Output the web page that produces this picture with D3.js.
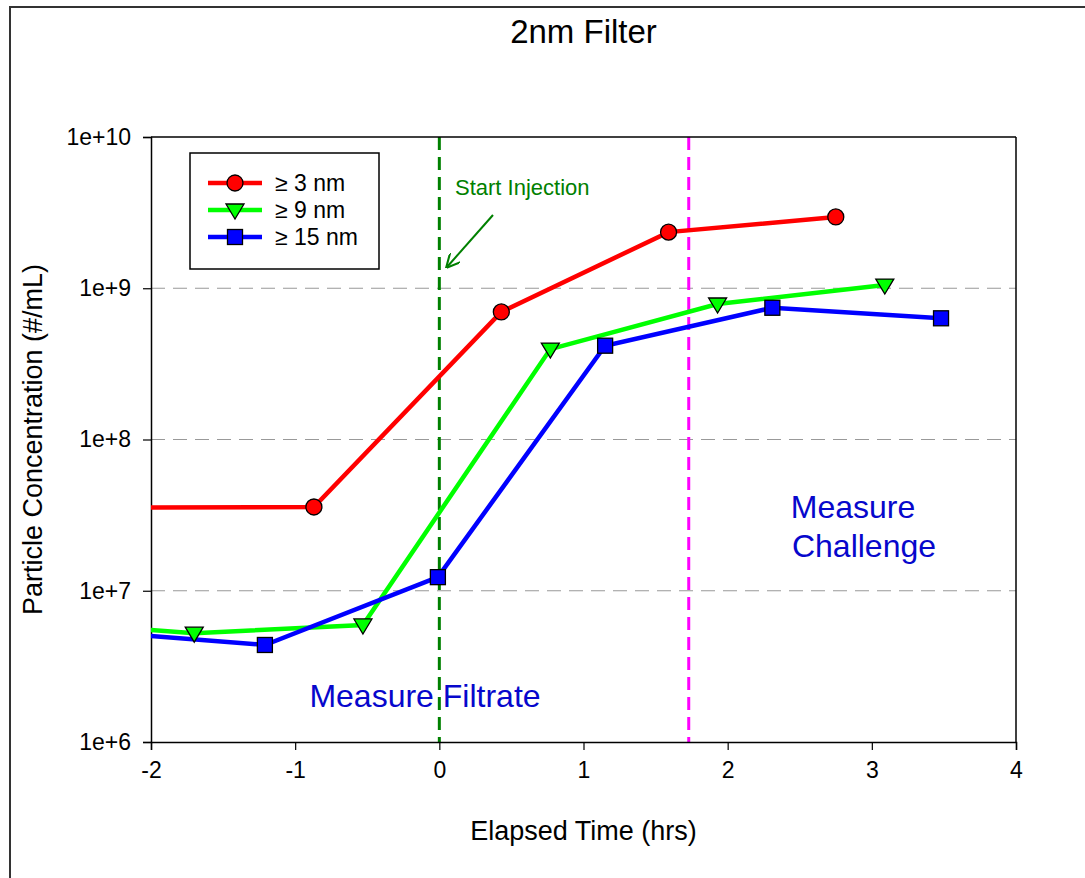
<!DOCTYPE html>
<html>
<head>
<meta charset="utf-8">
<script src="https://d3js.org/d3.v7.min.js"></script>
<style>
  body { margin: 0; background: #fff; }
  text { font-family: "Liberation Sans", Arial, sans-serif; }
</style>
</head>
<body>
<script>
// data (hours, #/mL)
var seriesNames = ["\u2265 3 nm", "\u2265 9 nm", "\u2265 15 nm"];
var seriesColors = ["#ff0000", "#00ff00", "#0000ff"];
var seriesShapes = ["circle", "triangle", "square"];
var time3 = [-2.3, -0.87, 0.43, 1.59, 2.75];
var conc3 = [3.55e7, 3.58e7, 6.97e8, 2.35e9, 2.96e9];
var time9 = [-2.3, -1.70, -0.53, 0.77, 1.93, 3.09];
var conc9 = [5.78e6, 5.24e6, 5.94e6, 3.96e8, 7.87e8, 1.05e9];
var time15 = [-2.3, -1.21, -0.01, 1.15, 2.31, 3.48];
var conc15 = [5.29e6, 4.38e6, 1.23e7, 4.17e8, 7.43e8, 6.33e8];
var xTicks = [-2, -1, 0, 1, 2, 3, 4];
var yTicks = [1e6, 1e7, 1e8, 1e9, 1e10];
var yTickLabels = ["1e+6", "1e+7", "1e+8", "1e+9", "1e+10"];
var gridValues = [1e7, 1e8, 1e9];
var injectTime = 0;
var challengeTime = 1.73;

var width = 1085, height = 878;
var plotLeft = 151, plotRight = 1016, plotTop = 137, plotBottom = 742;

var svg = d3.select("body").append("svg")
  .attr("width", width)
  .attr("height", height);

// outer frame
svg.append("rect")
  .attr("x", 10).attr("y", 7)
  .attr("width", width + 20).attr("height", height + 20)
  .attr("fill", "none")
  .attr("stroke", "#333")
  .attr("stroke-width", 2);

var x = d3.scaleLinear().domain([-2, 4]).range([plotLeft, plotRight]);
var y = d3.scaleLog().domain([1e6, 1e10]).range([plotBottom, plotTop]);

// title
svg.append("text")
  .attr("x", (plotLeft + plotRight) / 2).attr("y", 43)
  .attr("text-anchor", "middle")
  .style("font-size", "33px")
  .text("2nm Filter");

// grid lines
svg.selectAll(".grid").data(gridValues).enter().append("line")
  .attr("x1", plotLeft).attr("x2", plotRight)
  .attr("y1", d => y(d)).attr("y2", d => y(d))
  .style("stroke", "#999")
  .style("stroke-width", 1.2)
  .style("stroke-dasharray", "14,8");

// vertical markers
svg.append("line")
  .attr("x1", x(injectTime)).attr("x2", x(injectTime))
  .attr("y1", plotTop).attr("y2", plotBottom)
  .style("stroke", "#008000").style("stroke-width", 3)
  .style("stroke-dasharray", "13,7");
svg.append("line")
  .attr("x1", x(challengeTime)).attr("x2", x(challengeTime))
  .attr("y1", plotTop).attr("y2", plotBottom)
  .style("stroke", "#ff00ff").style("stroke-width", 3)
  .style("stroke-dasharray", "13,7");

// axes
var xAxis = svg.append("g")
  .attr("transform", "translate(0," + plotBottom + ")")
  .call(d3.axisBottom(x).tickValues(xTicks).tickSize(8).tickPadding(12).tickFormat(d => String(d)));
var yAxis = svg.append("g")
  .attr("transform", "translate(" + plotLeft + ",0)")
  .call(d3.axisLeft(y).tickValues(yTicks).tickSize(8).tickPadding(12)
    .tickFormat((d, i) => yTickLabels[i]));
[xAxis, yAxis].forEach(function (g) {
  g.select(".domain").attr("stroke", "#000").attr("stroke-width", 1.5);
  g.selectAll(".tick line").attr("stroke", "#000").attr("stroke-width", 1.2);
  g.selectAll(".tick text").style("font-size", "23px").attr("fill", "#000")
    .style("font-family", "Liberation Sans, Arial, sans-serif");
});

// plot frame top/right
svg.append("line").attr("x1", plotLeft).attr("x2", plotRight).attr("y1", plotTop).attr("y2", plotTop)
  .style("stroke", "#000").style("stroke-width", 1.5);
svg.append("line").attr("x1", plotRight).attr("x2", plotRight).attr("y1", plotTop).attr("y2", plotBottom)
  .style("stroke", "#000").style("stroke-width", 1.5);

// axis titles
svg.append("text")
  .attr("x", (plotLeft + plotRight) / 2).attr("y", 840)
  .attr("text-anchor", "middle")
  .style("font-size", "27px")
  .text("Elapsed Time (hrs)");
svg.append("text")
  .attr("transform", "translate(42," + ((plotTop + plotBottom) / 2) + ") rotate(-90)")
  .attr("text-anchor", "middle")
  .style("font-size", "27px")
  .text("Particle Concentration (#/mL)");

// annotations
svg.append("text").attr("x", 455).attr("y", 195)
  .style("font-size", "22px").attr("fill", "#008000")
  .text("Start Injection");
svg.append("defs").append("marker")
  .attr("id", "arrow").attr("viewBox", "0 0 10 10")
  .attr("refX", 9).attr("refY", 5)
  .attr("markerWidth", 7).attr("markerHeight", 7)
  .attr("orient", "auto")
  .append("path").attr("d", "M0,0 L10,5 L0,10")
  .attr("fill", "none").attr("stroke", "#008000").attr("stroke-width", 1.5);
svg.append("line")
  .attr("x1", 493).attr("y1", 215).attr("x2", 447).attr("y2", 267)
  .style("stroke", "#008000").style("stroke-width", 2)
  .attr("marker-end", "url(#arrow)");

svg.append("text").attr("x", 425).attr("y", 707)
  .attr("text-anchor", "middle")
  .style("font-size", "32px").attr("fill", "#0707cc")
  .text("Measure Filtrate");
svg.append("text").attr("x", 853).attr("y", 518)
  .attr("text-anchor", "middle")
  .style("font-size", "32px").attr("fill", "#0707cc")
  .text("Measure");
svg.append("text").attr("x", 864).attr("y", 557)
  .attr("text-anchor", "middle")
  .style("font-size", "32px").attr("fill", "#0707cc")
  .text("Challenge");

// series
svg.append("clipPath").attr("id", "plotclip")
  .append("rect").attr("x", plotLeft).attr("y", plotTop)
  .attr("width", plotRight - plotLeft).attr("height", plotBottom - plotTop);

var series = [
  { name: seriesNames[0], color: seriesColors[0], shape: seriesShapes[0], t: time3, c: conc3 },
  { name: seriesNames[1], color: seriesColors[1], shape: seriesShapes[1], t: time9, c: conc9 },
  { name: seriesNames[2], color: seriesColors[2], shape: seriesShapes[2], t: time15, c: conc15 }
];

function drawMarker(g, shape, color, cx, cy) {
  if (shape === "circle") {
    g.append("circle").attr("cx", cx).attr("cy", cy).attr("r", 8)
      .attr("fill", color).attr("stroke", "#000").attr("stroke-width", 1.3);
  } else if (shape === "triangle") {
    g.append("path")
      .attr("d", "M" + (cx - 9) + "," + (cy - 6) + " L" + (cx + 9) + "," + (cy - 6) + " L" + cx + "," + (cy + 9) + " Z")
      .attr("fill", color).attr("stroke", "#000").attr("stroke-width", 1.3);
  } else {
    g.append("rect").attr("x", cx - 7.5).attr("y", cy - 7.5).attr("width", 15).attr("height", 15)
      .attr("fill", color).attr("stroke", "#000").attr("stroke-width", 1.3);
  }
}

var line = d3.line().x(d => x(d[0])).y(d => y(d[1]));
var plot = svg.append("g").attr("clip-path", "url(#plotclip)");
series.forEach(function (s) {
  var pts = s.t.map((t, i) => [t, s.c[i]]);
  plot.append("path").datum(pts)
    .attr("d", line)
    .attr("fill", "none")
    .attr("stroke", s.color)
    .attr("stroke-width", 4.5);
});
series.forEach(function (s) {
  s.t.forEach(function (t, i) {
    drawMarker(plot, s.shape, s.color, x(t), y(s.c[i]));
  });
});

// legend
var lg = svg.append("g");
lg.append("rect").attr("x", 190).attr("y", 153).attr("width", 189).attr("height", 116)
  .attr("fill", "#fff").attr("stroke", "#000").attr("stroke-width", 1.5);
series.forEach(function (s, i) {
  var ly = 183 + i * 27;
  lg.append("line").attr("x1", 208).attr("x2", 262).attr("y1", ly).attr("y2", ly)
    .attr("stroke", s.color).attr("stroke-width", 4.5);
  drawMarker(lg, s.shape, s.color, 235, ly);
  lg.append("text").attr("x", 275).attr("y", ly + 8)
    .style("font-size", "23px")
    .text(s.name);
});
</script>
</body>
</html>
